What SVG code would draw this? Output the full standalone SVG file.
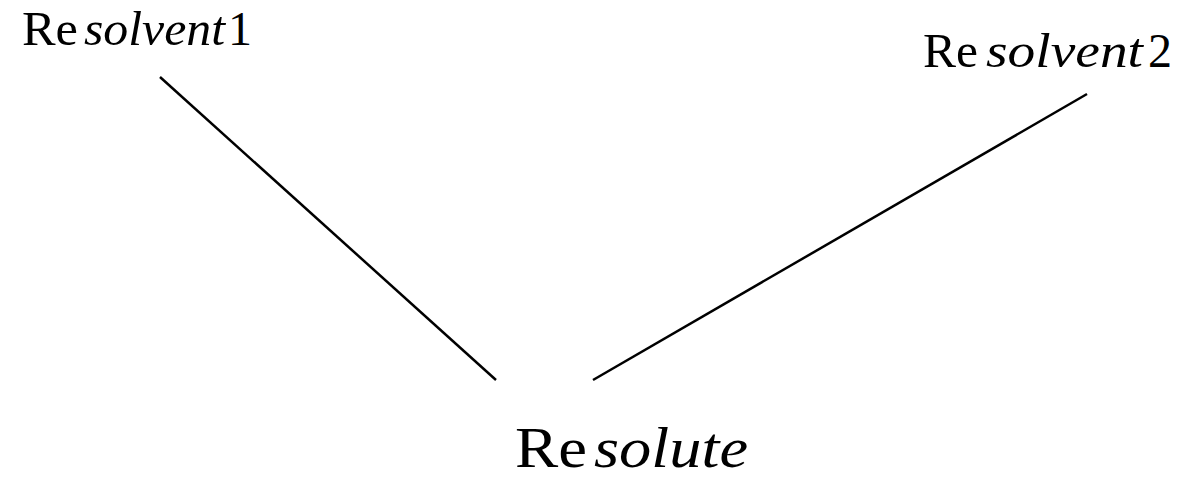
<svg xmlns="http://www.w3.org/2000/svg" width="1178" height="480" viewBox="0 0 1178 480">
<style>
text{font-family:"Liberation Serif","Times New Roman",serif;fill:#000}
.i{font-style:italic}
.c{stroke:#000;stroke-width:2.5;fill:none}
</style>
<rect width="1178" height="480" fill="#fff"/>
<g id="connectors">
<line class="c" x1="160" y1="77" x2="496" y2="380"/>
<line class="c" x1="593" y1="380" x2="1087" y2="94"/>
</g>
<g id="solvent1"><text y="45" font-size="48"><tspan x="22" textLength="56" lengthAdjust="spacingAndGlyphs">Re</tspan><tspan class="i" x="84" textLength="141" lengthAdjust="spacingAndGlyphs">solvent</tspan><tspan x="228">1</tspan></text></g>
<g id="solvent2"><text y="67" font-size="48"><tspan x="923" textLength="55" lengthAdjust="spacingAndGlyphs">Re</tspan><tspan class="i" x="986" textLength="157" lengthAdjust="spacingAndGlyphs">solvent</tspan><tspan x="1148">2</tspan></text></g>
<g id="solute"><text y="467" font-size="57"><tspan x="515" textLength="72" lengthAdjust="spacingAndGlyphs">Re</tspan><tspan class="i" x="594" textLength="154" lengthAdjust="spacingAndGlyphs">solute</tspan></text></g>
</svg>
